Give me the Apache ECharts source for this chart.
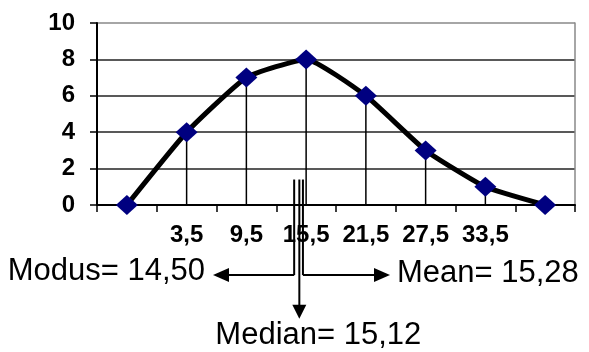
<!DOCTYPE html>
<html>
<head>
<meta charset="utf-8">
<style>html,body{margin:0;padding:0;background:#fff}#c{width:589px;height:352px}</style>
<script src="https://cdn.jsdelivr.net/npm/echarts@6/dist/echarts.min.js"></script>
</head>
<body>
<div id="c"></div>
<script>
// Data
var categories = ['', '3,5', '9,5', '15,5', '21,5', '27,5', '33,5', ''];
var frequencies = [0, 4, 7, 8, 6, 3, 1, 0];
var yTicks = [0, 2, 4, 6, 8, 10];
// class midpoints behind the categories (first/last are empty classes)
var classMidMin = -5.5, classMidMax = 42.5;
var modusValue = 14.50, medianValue = 15.12, meanValue = 15.28;
var modusLabel = 'Modus= 14,50', medianLabel = 'Median= 15,12', meanLabel = 'Mean= 15,28';

var FONT = '"Liberation Sans", Arial, sans-serif';
var chart = echarts.init(document.getElementById('c'), null, {renderer: 'canvas'});
chart.setOption({
  animation: false,
  backgroundColor: '#fff',
  grid: {left: 97, right: 14, top: 23, bottom: 147, containLabel: false},
  xAxis: [{
    type: 'category', data: categories, boundaryGap: true,
    axisLine: {onZero: false, lineStyle: {color: '#000', width: 2}},
    axisTick: {show: true, length: 7, interval: 0, lineStyle: {color: '#000', width: 1.5}},
    axisLabel: {interval: 0, margin: 18, color: '#000', fontFamily: FONT, fontWeight: 'bold', fontSize: 24},
    splitLine: {show: false}
  }, {
    type: 'value', min: classMidMin, max: classMidMax, show: false
  }],
  yAxis: [{
    type: 'value', min: 0, max: 10, interval: 2,
    axisLine: {show: true, onZero: false, lineStyle: {color: '#000', width: 2}},
    axisTick: {show: true, length: 7, lineStyle: {color: '#000', width: 1.5}},
    axisLabel: {margin: 22, color: '#000', fontFamily: FONT, fontWeight: 'bold', fontSize: 24,
      formatter: function (v) { return yTicks.indexOf(v) >= 0 ? String(v) : ''; }},
    splitLine: {show: true, lineStyle: {color: ['#222', '#222', '#222', '#222', '#222', '#888'], width: 1.5}}
  }, {
    type: 'value', min: 0, max: 10, position: 'right',
    axisLine: {show: true, onZero: false, lineStyle: {color: '#888', width: 1.5}},
    axisTick: {show: false}, axisLabel: {show: false}, splitLine: {show: false}
  }],
  series: [{
    type: 'bar', data: frequencies, barWidth: 1.5, z: 1,
    itemStyle: {color: '#000'}, silent: true
  }, {
    type: 'line', data: frequencies, smooth: 0.15, z: 3,
    lineStyle: {color: '#000', width: 5},
    symbol: 'diamond', symbolSize: [22, 20], showSymbol: true,
    itemStyle: {color: '#000080', borderWidth: 0}
  }]
});

// annotation geometry, in y-axis value units (extended below 0)
var lineTopY = 1.4, arrowY = -3.85, medianTipY = -6.25;
function px(x) { return chart.convertToPixel({xAxisIndex: 1}, x); }
function py(y) { return chart.convertToPixel({yAxisIndex: 0}, y); }
var xMo = px(modusValue) - 2, xMe = px(medianValue) - 3, xMn = px(meanValue) - 1;
var yTop = py(lineTopY), yArr = py(arrowY), yTip = py(medianTipY);
var leftTip = 213, rightTip = 390;
var ls = {stroke: '#000', lineWidth: 2};
var TF = '31px ' + FONT;
var g = [
  {type: 'line', shape: {x1: xMo, y1: yTop, x2: xMo, y2: yArr}, style: ls},
  {type: 'line', shape: {x1: xMo, y1: yArr, x2: leftTip + 12, y2: yArr}, style: ls},
  {type: 'polygon', shape: {points: [[leftTip, yArr], [leftTip + 16, yArr - 7], [leftTip + 16, yArr + 7]]}, style: {fill: '#000'}},
  {type: 'line', shape: {x1: xMn, y1: yTop, x2: xMn, y2: yArr}, style: ls},
  {type: 'line', shape: {x1: xMn, y1: yArr, x2: rightTip - 12, y2: yArr}, style: ls},
  {type: 'polygon', shape: {points: [[rightTip, yArr], [rightTip - 16, yArr - 7], [rightTip - 16, yArr + 7]]}, style: {fill: '#000'}},
  {type: 'line', shape: {x1: xMe, y1: yTop, x2: xMe, y2: yTip - 10}, style: ls},
  {type: 'polygon', shape: {points: [[xMe, yTip], [xMe - 7, yTip - 14], [xMe + 7, yTip - 14]]}, style: {fill: '#000'}},
  {type: 'text', x: leftTip - 8, y: yArr - 4, style: {text: modusLabel, fill: '#000', font: TF, align: 'right', verticalAlign: 'middle'}},
  {type: 'text', x: rightTip + 7, y: yArr - 2, style: {text: meanLabel, fill: '#000', font: TF, align: 'left', verticalAlign: 'middle'}},
  {type: 'text', x: xMe + 19, y: yTip + 17, style: {text: medianLabel, fill: '#000', font: TF, align: 'center', verticalAlign: 'middle'}}
];
chart.setOption({graphic: g});
</script>
</body>
</html>
